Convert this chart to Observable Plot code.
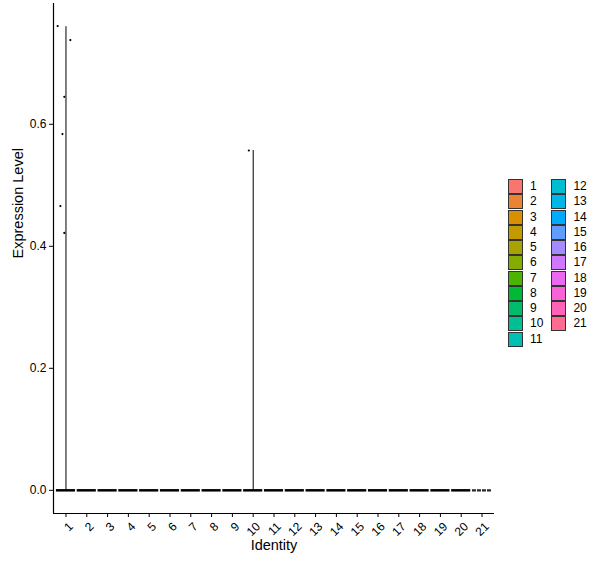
<!DOCTYPE html>
<html>
<head>
<meta charset="utf-8">
<script src="https://cdn.jsdelivr.net/npm/d3@7"></script>
<script src="https://cdn.jsdelivr.net/npm/@observablehq/plot@0.6"></script>
<style>
  body { margin: 0; background: #fff; }
  #wrap { position: relative; width: 600px; height: 568px; font-family: Arial, "Liberation Sans", sans-serif; }
  #wrap svg { position: absolute; left: 0; top: 0; }
  .key { position: absolute; width: 13px; height: 13px; border: 1px solid #333; box-sizing: content-box; }
  .klab { position: absolute; font-size: 12px; line-height: 15px; color: #000; }
</style>
</head>
<body>
<div id="wrap"></div>
<script>
// ---- data ----
const groups = [1, 2, 3, 4, 5, 6, 7, 8, 9, 10, 11, 12, 13, 14, 15, 16, 17, 18, 19, 20, 21];
const groupColors = ["#F8766D", "#EB8335", "#DA8F00", "#C39A00", "#A8A300", "#85AC00", "#4CB400",
  "#00B934", "#00BD6B", "#00C093", "#00C0B4", "#00BDD1", "#00B6E9", "#00ABFD", "#619CFF",
  "#A58AFF", "#CF78FD", "#EB69EE", "#FA62D7", "#FF63B8", "#FF6C8F"];
const violinGroup = [1, 10];
const violinMax = [0.760, 0.557];
const pointGroup = [1, 1, 1, 1, 1, 1, 10];
const pointJitter = [-0.40, 0.21, -0.08, -0.17, -0.27, -0.08, -0.21];
const pointValue = [0.761, 0.738, 0.645, 0.584, 0.466, 0.422, 0.557];
const zeroValue = 0;
const yTicks = [0.0, 0.2, 0.4, 0.6];
const xTitle = "Identity";
const yTitle = "Expression Level";

// ---- build tables ----
const violins = violinGroup.map((g, i) => ({g, max: violinMax[i]}));
const points = pointGroup.map((g, i) => ({x: g + pointJitter[i], v: pointValue[i]}));

const chart = Plot.plot({
  width: 600,
  height: 568,
  marginLeft: 53,
  marginRight: 106,
  marginTop: 3,
  marginBottom: 55,
  style: {fontFamily: "Arial, 'Liberation Sans', sans-serif", fontSize: "12px", color: "#000", background: "transparent"},
  x: {type: "linear", domain: [0.4, 21.6]},
  y: {domain: [-0.038, 0.798]},
  marks: [
    Plot.axisY(yTicks, {tickSize: 4, tickPadding: 3, tickFormat: d3.format(".1f"), label: null, fontSize: 12}),
    Plot.axisX(groups, {tickSize: 4, tickPadding: 4, tickRotate: -45, tickFormat: d => String(d), label: null, fontSize: 12, textStroke: null}),
    Plot.ruleX([0.4], {stroke: "#000", strokeWidth: 1.2}),
    Plot.ruleY([-0.038], {stroke: "#000", strokeWidth: 1.2}),
    Plot.ruleX(violins, {x: "g", y1: 0, y2: "max", stroke: "#000", strokeWidth: 1}),
    Plot.ruleY(groups.filter(g => g !== 21), {y: zeroValue, x1: g => g - 0.46, x2: g => g + 0.46, stroke: "#000", strokeWidth: 2.5}),
    Plot.ruleY(groups.filter(g => g === 21), {y: zeroValue, x1: g => g - 0.46, x2: g => g + 0.46, stroke: "#000", strokeWidth: 2.2, strokeDasharray: "4,1", strokeOpacity: 0.85}),
    Plot.dot(points, {x: "x", y: "v", r: 1.1, fill: "#000", stroke: null}),
    Plot.text([yTitle], {frameAnchor: "left", dx: -35, rotate: -90, fontSize: 14.5, fill: "#000"}),
    Plot.text([xTitle], {frameAnchor: "bottom", dy: 36, fontSize: 14.5, fill: "#000"})
  ]
});

// shift rotated x tick labels (ggplot hjust=1, vjust=1 look)
const wrap = document.getElementById("wrap");
wrap.appendChild(chart);
chart.querySelectorAll("g[aria-label='x-axis tick label'] text").forEach(t => {
  const tr = t.getAttribute("transform") || "";
  t.setAttribute("transform", "translate(5,3) " + tr);
});

// ---- legend ----
const perCol = 11;
groups.forEach((g, i) => {
  const col = Math.floor(i / perCol);
  const row = i % perCol;
  const left = 508 + col * 43.4;
  const top = 179 + row * 15.25;
  const key = document.createElement("div");
  key.className = "key";
  key.style.left = left + "px";
  key.style.top = top + "px";
  key.style.background = groupColors[i];
  wrap.appendChild(key);
  const lab = document.createElement("div");
  lab.className = "klab";
  lab.style.left = (left + 22) + "px";
  lab.style.top = top + "px";
  lab.textContent = String(g);
  wrap.appendChild(lab);
});
</script>
</body>
</html>
